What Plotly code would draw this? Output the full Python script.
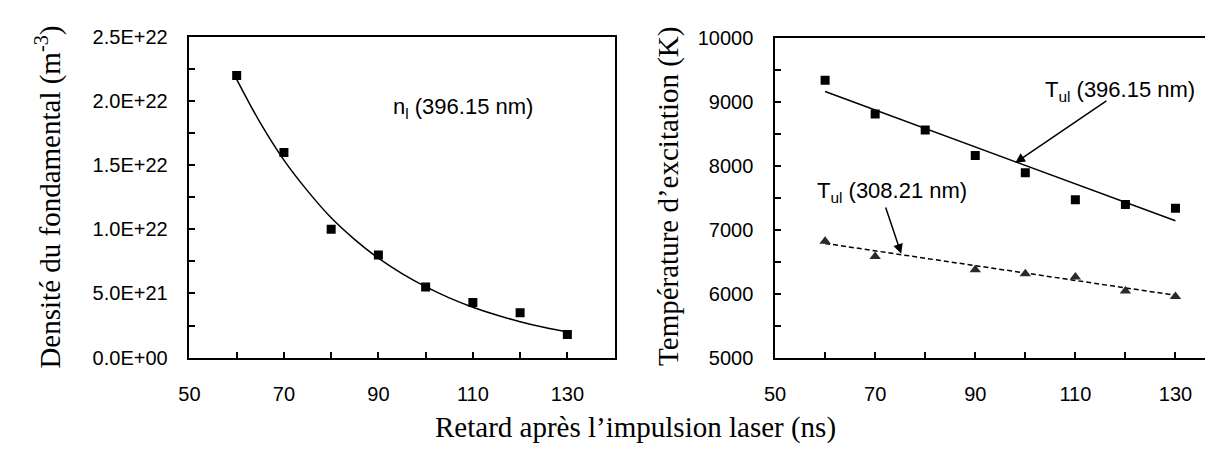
import plotly.graph_objects as go

# left panel: ground state density n_l (396.15 nm)
delay_n = [60, 70, 80, 90, 100, 110, 120, 130]
density = [2.2e22, 1.6e22, 1.0e22, 8.0e21, 5.5e21, 4.3e21, 3.5e21, 1.8e21]
# fitted curve
fit_n_x = [60, 65, 70, 75, 80, 85, 90, 95, 100, 105, 110, 115, 120, 125, 130]
fit_n_y = [2.17e22, 1.83e22, 1.54e22, 1.30e22, 1.09e22, 9.2e21, 7.75e21, 6.55e21,
           5.53e21, 4.66e21, 3.93e21, 3.32e21, 2.80e21, 2.36e21, 1.99e21]

# right panel: excitation temperatures
delay_t1 = [60, 70, 80, 90, 100, 110, 120, 130]
temp_396 = [9335, 8810, 8560, 8160, 7890, 7470, 7395, 7335]
fit_396_x = [60, 130]
fit_396_y = [9160, 7140]

delay_t2 = [60, 70, 90, 100, 110, 120, 130]
temp_308 = [6820, 6580, 6375, 6310, 6260, 6040, 5955]
fit_308_x = [60, 130]
fit_308_y = [6785, 5975]

ytick_n = [0, 5e21, 1e22, 1.5e22, 2e22, 2.5e22]
ytext_n = ["0.0E+00", "5.0E+21", "1.0E+22", "1.5E+22", "2.0E+22", "2.5E+22"]
ytick_t = [5000, 6000, 7000, 8000, 9000, 10000]
ytext_t = ["5000", "6000", "7000", "8000", "9000", "10000"]
xtick = [50, 70, 90, 110, 130]

tickfont = dict(family="Liberation Sans, Arial", size=20, color="black")
serif = dict(family="Liberation Serif, Times New Roman", size=29, color="black")

fig = go.Figure()

fig.add_trace(go.Scatter(x=fit_n_x, y=fit_n_y, mode="lines", line=dict(color="black", width=1.5, shape="spline"),
                         xaxis="x", yaxis="y", showlegend=False))
fig.add_trace(go.Scatter(x=delay_n, y=density, mode="markers",
                         marker=dict(symbol="square", size=9, color="black"),
                         xaxis="x", yaxis="y", showlegend=False))

fig.add_trace(go.Scatter(x=fit_396_x, y=fit_396_y, mode="lines", line=dict(color="black", width=1.5),
                         xaxis="x2", yaxis="y2", showlegend=False))
fig.add_trace(go.Scatter(x=delay_t1, y=temp_396, mode="markers",
                         marker=dict(symbol="square", size=9, color="black"),
                         xaxis="x2", yaxis="y2", showlegend=False))
fig.add_trace(go.Scatter(x=fit_308_x, y=fit_308_y, mode="lines",
                         line=dict(color="black", width=1.5, dash="5px,3px"),
                         xaxis="x2", yaxis="y2", showlegend=False))
fig.add_trace(go.Scatter(x=delay_t2, y=temp_308, mode="markers",
                         marker=dict(symbol="triangle-up", size=10, color="#2a2a2a"),
                         xaxis="x2", yaxis="y2", showlegend=False))

common_x = dict(tickvals=xtick, ticks="inside", ticklen=6, tickwidth=1.5, tickcolor="black",
                minor=dict(dtick=10, tick0=50, ticks="inside", ticklen=6, tickwidth=1.5, tickcolor="black"),
                showline=True, linecolor="black", linewidth=1.5, showgrid=False, zeroline=False,
                tickfont=tickfont, ticklabelstandoff=18)
common_y = dict(ticks="inside", ticklen=6, tickwidth=1.5, tickcolor="black",
                showline=True, linecolor="black", linewidth=1.5, showgrid=False, zeroline=False,
                tickfont=tickfont, ticklabelstandoff=16)

fig.update_layout(
    width=1213, height=450,
    margin=dict(l=0, r=0, t=0, b=0),
    plot_bgcolor="white", paper_bgcolor="white",
    xaxis=dict(domain=[0.1418, 0.4955], range=[50, 140], mirror=True, anchor="y", **common_x),
    yaxis=dict(domain=[0.2089, 0.958], range=[0, 2.5e22], tickvals=ytick_n, ticktext=ytext_n,
               minor=dict(dtick=2.5e21, ticks="inside", ticklen=6, tickwidth=1.5, tickcolor="black"),
               mirror=True, anchor="x", **common_y),
    xaxis2=dict(domain=[0.629, 1.0], range=[50, 139.1], mirror=True, anchor="y2", **common_x),
    yaxis2=dict(domain=[0.2089, 0.956], range=[5000, 10000], tickvals=ytick_t, ticktext=ytext_t,
                minor=dict(dtick=500, ticks="inside", ticklen=6, tickwidth=1.5, tickcolor="black"),
                mirror=False, anchor="x2", **common_y),
)

ann_font = dict(family="Liberation Sans, Arial", size=22, color="black")
fig.add_annotation(x=108, y=1.95e22, xref="x", yref="y", text="n<sub>l</sub> (396.15 nm)",
                   showarrow=False, font=ann_font)
fig.add_annotation(x=98, y=8045, ax=116.5, ay=9030, xref="x2", yref="y2", axref="x2", ayref="y2",
                   text="", showarrow=True, arrowhead=2, arrowsize=1.3, arrowwidth=1.5, arrowcolor="black")
fig.add_annotation(x=119, y=9165, xref="x2", yref="y2", text="T<sub>ul</sub> (396.15 nm)",
                   showarrow=False, font=ann_font)
fig.add_annotation(x=75.2, y=6625, ax=72, ay=7370, xref="x2", yref="y2", axref="x2", ayref="y2",
                   text="", showarrow=True, arrowhead=2, arrowsize=1.3, arrowwidth=1.5, arrowcolor="black")
fig.add_annotation(x=73.3, y=7595, xref="x2", yref="y2", text="T<sub>ul</sub> (308.21 nm)",
                   showarrow=False, font=ann_font)

# axis titles, positions given in pixels then turned into paper coords
titles = [
    (30, 187, "Densité du fondamental (m<sup>-3</sup>)", -90),
    (656, 187, "Température d’excitation (K)", -90),
    (622, 430, "Retard après l’impulsion laser (ns)", 0),
]
for px, py, txt, ang in titles:
    fig.add_annotation(x=px / 1213, y=1 - py / 450, xref="paper", yref="paper", text=txt,
                       xanchor="center", yanchor="middle", showarrow=False, textangle=ang, font=serif)

fig.write_html("out.html")
